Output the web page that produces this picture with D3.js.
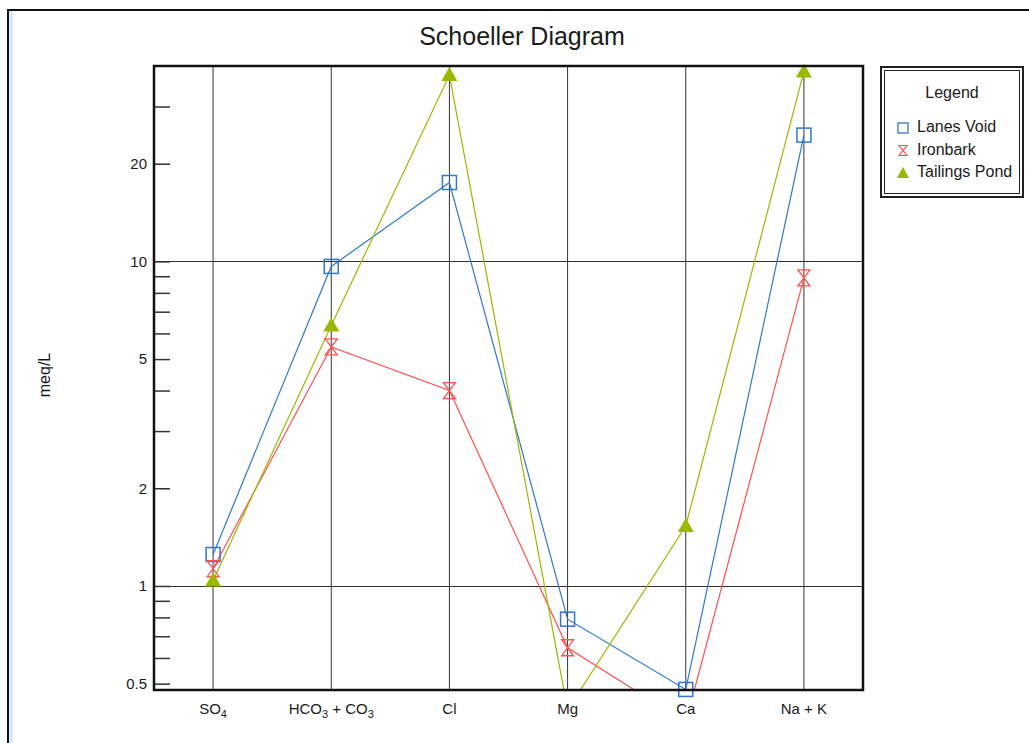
<!DOCTYPE html>
<html>
<head>
<meta charset="utf-8">
<script src="https://cdn.jsdelivr.net/npm/d3@7"></script>
<style>
  body { margin: 0; background: #fff; }
  text { font-family: "Liberation Sans", Arial, sans-serif; fill: #1a1a1a; }
</style>
</head>
<body>
<svg id="chart" width="1029" height="743"></svg>
<script>
// categories along the x axis (main text + subscript parts)
const categories = ["SO4", "HCO3 + CO3", "Cl", "Mg", "Ca", "Na + K"];
const categoryParts = [
    [["SO", 0], ["4", 1]],
    [["HCO", 0], ["3", 1], [" + CO", 0], ["3", 1]],
    [["Cl", 0]],
    [["Mg", 0]],
    [["Ca", 0]],
    [["Na + K", 0]]
];

// meq/L values
const lanesVoid    = [1.25, 9.65, 17.5, 0.79, 0.48, 24.5];
const ironbark     = [1.13, 5.45, 4.0, 0.645, 0.38, 8.9];
const tailingsPond = [1.04, 6.35, 37.5, 0.415, 1.53, 38.5];

const seriesNames = ["Lanes Void", "Ironbark", "Tailings Pond"];
const seriesColors = ["#2f78d0", "#ff4f4f", "#9bb800"];
const seriesShapes = ["square", "hourglass", "triangle"];

const yTicks = [0.5, 0.6, 0.7, 0.8, 0.9, 1, 2, 3, 4, 5, 6, 7, 8, 9, 10, 20, 30];
const yLabels = [0.5, 1, 2, 5, 10, 20];
const yGrid = [1, 10];

const svg = d3.select("#chart");
const margin = { top: 66, right: 166, bottom: 53, left: 154 };
const W = 1029, H = 743;
const plotW = W - margin.left - margin.right;
const plotH = H - margin.top - margin.bottom;

// outer frame
svg.append("line").attr("x1", 11).attr("x2", 11).attr("y1", 11).attr("y2", H)
    .attr("stroke", "#cfe5f9").attr("stroke-width", 3);
svg.append("path").attr("d", `M8,${H} V10 H${W}`)
    .attr("fill", "none").attr("stroke", "#111").attr("stroke-width", 2);

svg.append("text")
    .attr("x", 522).attr("y", 45)
    .attr("text-anchor", "middle")
    .style("font-size", "25px")
    .text("Schoeller Diagram");

const g = svg.append("g").attr("transform", `translate(${margin.left},${margin.top})`);

const x = d3.scalePoint().domain(categories).range([0, plotW]).padding(0.5);
const y = d3.scaleLog().domain([0.478, 40]).range([plotH, 0]);

// grid lines
g.selectAll(".vgrid").data(categories).join("line")
    .attr("x1", d => x(d)).attr("x2", d => x(d))
    .attr("y1", 0).attr("y2", plotH)
    .attr("stroke", "#333").attr("stroke-width", 1);
g.selectAll(".hgrid").data(yGrid).join("line")
    .attr("x1", 0).attr("x2", plotW)
    .attr("y1", d => Math.round(y(d)) + 0.5).attr("y2", d => Math.round(y(d)) + 0.5)
    .attr("stroke", "#333").attr("stroke-width", 1);

// y axis, ticks pointing inward
const yAxis = g.append("g")
    .call(d3.axisLeft(y).tickValues(yTicks).tickSizeInner(-16).tickSizeOuter(0).tickPadding(7)
        .tickFormat(d => yLabels.includes(d) ? d3.format("")(d) : ""));
yAxis.select(".domain").remove();
yAxis.selectAll(".tick line").attr("stroke", "#333").attr("stroke-width", 1.5);
yAxis.selectAll(".tick text")
    .style("font-size", "15px").style("font-family", "Liberation Sans, Arial, sans-serif").attr("fill", "#1a1a1a");

svg.append("text")
    .attr("transform", `translate(50,${375}) rotate(-90)`)
    .attr("text-anchor", "middle")
    .style("font-size", "16px")
    .text("meq/L");

// x labels with subscripts
const xl = g.selectAll(".xlab").data(categoryParts).join("text")
    .attr("x", (d, i) => x(categories[i]))
    .attr("y", plotH + 24)
    .attr("text-anchor", "middle")
    .style("font-size", "15px");
xl.each(function(parts) {
    const t = d3.select(this);
    let sub = false;
    parts.forEach(([s, isSub]) => {
        const dy = isSub && !sub ? 4 : (!isSub && sub ? -4 : 0);
        t.append("tspan").attr("dy", dy).style("font-size", isSub ? "11px" : "15px").text(s);
        sub = !!isSub;
    });
});

// clip
svg.append("defs").append("clipPath").attr("id", "plotclip")
    .append("rect").attr("width", plotW).attr("height", plotH);

const allSeries = [lanesVoid, ironbark, tailingsPond];
const line = d3.line().x((d, i) => x(categories[i])).y(d => y(d));

allSeries.forEach((vals, s) => {
    g.append("path").datum(vals)
        .attr("clip-path", "url(#plotclip)")
        .attr("d", line)
        .attr("fill", "none")
        .attr("stroke", seriesColors[s])
        .attr("stroke-width", 1.2);
});

function drawMarker(sel, shape, color, cx, cy) {
    if (shape === "square") {
        sel.append("rect").attr("x", cx - 7).attr("y", cy - 7).attr("width", 14).attr("height", 14)
            .attr("fill", "none").attr("stroke", color).attr("stroke-width", 1.5);
    } else if (shape === "hourglass") {
        sel.append("path")
            .attr("d", `M${cx - 6},${cy - 8} H${cx + 6} L${cx - 6},${cy + 8} H${cx + 6} Z`)
            .attr("fill", "none").attr("stroke", color).attr("stroke-width", 1.3);
    } else {
        sel.append("path")
            .attr("d", `M${cx},${cy - 8} L${cx + 8},${cy + 6} L${cx - 8},${cy + 6} Z`)
            .attr("fill", color);
    }
}

allSeries.forEach((vals, s) => {
    const mg = g.append("g");
    vals.forEach((v, i) => {
        if (v < y.domain()[0] || v > y.domain()[1]) return;
        drawMarker(mg, seriesShapes[s], seriesColors[s], x(categories[i]), y(v));
    });
});

// plot frame
g.append("rect").attr("width", plotW).attr("height", plotH)
    .attr("fill", "none").attr("stroke", "#111").attr("stroke-width", 2.5);

// legend
const lg = svg.append("g");
lg.append("rect").attr("x", 881).attr("y", 67).attr("width", 142).attr("height", 130)
    .attr("fill", "#fff").attr("stroke", "#222").attr("stroke-width", 2);
lg.append("rect").attr("x", 884.5).attr("y", 70.5).attr("width", 135).attr("height", 123)
    .attr("fill", "none").attr("stroke", "#222").attr("stroke-width", 1);
lg.append("text").attr("x", 952).attr("y", 98).attr("text-anchor", "middle")
    .style("font-size", "16px").text("Legend");
seriesNames.forEach((name, i) => {
    const cy = 127 + i * 22.5;
    const mk = lg.append("g");
    if (seriesShapes[i] === "square") {
        mk.append("rect").attr("x", 898).attr("y", cy - 4).attr("width", 10).attr("height", 10)
            .attr("fill", "none").attr("stroke", seriesColors[i]).attr("stroke-width", 1.3);
    } else if (seriesShapes[i] === "hourglass") {
        mk.append("path").attr("d", `M899,${cy - 4} H907 L899,${cy + 6} H907 Z`)
            .attr("fill", "none").attr("stroke", seriesColors[i]).attr("stroke-width", 1.2);
    } else {
        mk.append("path").attr("d", `M903,${cy - 5} L909,${cy + 6} L897,${cy + 6} Z`)
            .attr("fill", seriesColors[i]);
    }
    lg.append("text").attr("x", 917).attr("y", cy + 5).style("font-size", "16px").text(name);
});
</script>
</body>
</html>
